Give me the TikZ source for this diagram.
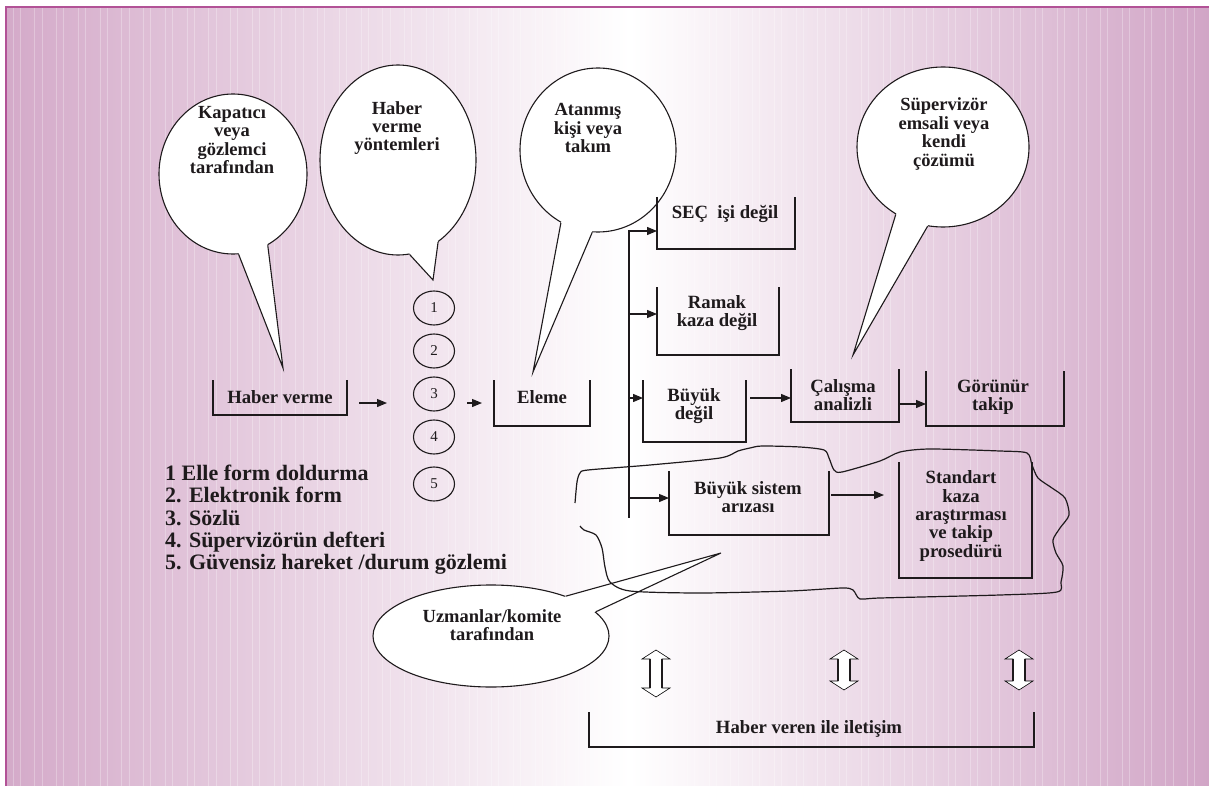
\documentclass[tikz,border=0pt]{standalone}
\usepackage{fontspec}
\setmainfont{Liberation Serif}
\usetikzlibrary{arrows.meta,shapes.geometric,calc}
\definecolor{pinkL}{RGB}{212,170,201}
\definecolor{pinkR}{RGB}{209,165,198}
\definecolor{framec}{RGB}{178,82,150}
\definecolor{textc}{RGB}{30,26,28}
\newcommand\dblarw[3]{%
 \filldraw[fill=white, draw=black, line width=0.6pt] (#1,#2) -- ++(14,9) -- ++(-8,0) -- (#1+6,#3-9) -- ++(8,0) -- (#1,#3) -- ++(-14,-9) -- ++(8,0) -- (#1-6,#2+9) -- ++(-8,0) -- cycle;
 \draw[line width=1.8pt, textc] (#1-6,#2+9) -- (#1-6,#3-9) (#1+6,#2+9) -- (#1+6,#3-9);
}
\begin{document}
\begin{tikzpicture}[x=1pt,y=-1pt,
  txt/.style={font=\fontsize{18.7}{18.4}\selectfont\bfseries, text=textc, align=center, inner sep=0},
  btxt/.style={font=\fontsize{18.5}{18.4}\selectfont\bfseries, text=textc, align=center, inner sep=0},
  legtxt/.style={font=\fontsize{22}{22.2}\selectfont\bfseries, text=textc, align=left, inner sep=0},
  box/.style 2 args={minimum width=#1pt, minimum height=#2pt, inner sep=0, outer sep=0},
  uline/.style={line width=1.7pt, textc},
  balloon/.style={ellipse, draw=textc, fill=white, line width=1.1pt, inner sep=0},
  bline/.style={draw=textc, line width=1.1pt},
  circ/.style={ellipse, draw=textc, line width=1.1pt, minimum width=41pt, minimum height=34pt, inner sep=0, font=\fontsize{15}{15}\selectfont, text=textc},
  arr/.style={line width=1.2pt, textc, -{Triangle[length=10pt,width=8pt]}},
  cloudline/.style={line width=1.2pt, textc}
]
\useasboundingbox (0,0) rectangle (1209,786);
% background
\fill[white] (0,0) rectangle (1209,786);
\shade[left color=pinkL, right color=white] (6,7) rectangle (630,786);
\shade[left color=white, right color=pinkR] (629.5,7) rectangle (1209,786);
\foreach \i in {0,...,165} {
  \pgfmathtruncatemacro\skipit{mod(\i,3)}
  \ifnum\skipit=2\else
  \pgfmathsetmacro\xx{13+\i*7.25}
  \draw[white, opacity=0.28, line width=0.9pt] (\xx,8) -- (\xx,786);
  \fi
}
\draw[framec, line width=2.6pt] (6,786) -- (6,7) -- (1209,7);

% balloons
\node[balloon, minimum width=148pt, minimum height=160pt] (B1) at (233,174) {};
\coordinate (tip1) at (283,368);
\fill[white] (B1.274) -- (tip1) -- (B1.296) -- (B1.center) -- cycle;
\draw[bline] (B1.274) -- (tip1) -- (B1.296);

\node[balloon, minimum width=156pt, minimum height=190pt] (B2) at (398,160) {};
\coordinate (tip2) at (433,280);
\fill[white] (B2.277) -- (tip2) -- (B2.296) -- (B2.center) -- cycle;
\draw[bline] (B2.277) -- (tip2) -- (B2.296);

\node[balloon, minimum width=156pt, minimum height=164pt] (B3) at (598,150) {};
\coordinate (tip3) at (533,372);
\fill[white] (B3.243) -- (tip3) -- (B3.266) -- (B3.center) -- cycle;
\draw[bline] (B3.243) -- (tip3) -- (B3.266);

\node[balloon, minimum width=172pt, minimum height=160pt] (B4) at (943,147) {};
\coordinate (tip4) at (853,355);
\fill[white] (B4.235) -- (tip4) -- (B4.259) -- (B4.center) -- cycle;
\draw[bline] (B4.235) -- (tip4) -- (B4.259);

\node[balloon, minimum width=236pt, minimum height=102pt] (B5) at (491,636) {};
\coordinate (tip5) at (721,553);
\fill[white] (B5.28) -- (tip5) -- (B5.13) -- (B5.center) -- cycle;
\draw[bline] (B5.28) -- (tip5) -- (B5.13);

% cloud outline
\draw[cloudline] plot[smooth, tension=0.45] coordinates {
 (575,503) (577,482) (580,473) (588,470) (650,465) (720,458) (738,451) (750,448) (762,446) (800,447) (824,450) (829,458) (834,470) (842,472) (880,461) (900,452) (930,449) (1000,451) (1027,453) (1032,465) (1038,478) (1052,488) (1065,498) (1069,515) (1060,528) (1053,540) (1056,553) (1063,566) (1061,582) (1057,592) (1000,595) (880,598) (860,599) (853,590) (842,588) (790,591) (700,593) (630,591) (610,582) (605,567) (602,548) (596,535) (584,530) (580,526)};

% boxes
\node[box={134}{35}] (hv) at (280,397.5) {};
\node[box={96}{46}] (el) at (542,403) {};
\node[box={138}{52}] (sec) at (726,223) {};
\node[box={122}{68}] (ram) at (718,321) {};
\node[box={103}{62}] (bd) at (694.5,411) {};
\node[box={108}{53}] (cal) at (845,395.5) {};
\node[box={138}{55}] (gor) at (995,398.5) {};
\node[box={160}{64}] (bs) at (749,503) {};
\node[box={133}{116}] (std) at (965.5,520) {};
\node[box={445}{35}] (hvi) at (811.5,729.5) {};
\foreach \n in {hv,el,sec,ram,bd,cal,gor,bs,std,hvi}
  \draw[uline] (\n.north west) -- (\n.south west) -- (\n.south east) -- (\n.north east);

% circles
\node[circ] (c1) at (434,308) {1};
\node[circ] (c2) at (434,351) {2};
\node[circ] (c3) at (434,394) {3};
\node[circ] (c4) at (434,437) {4};
\node[circ] (c5) at (434,484) {5};

% connectors
\coordinate (a1s) at (359,403);
\coordinate (a1e) at (387,403);
\draw[arr] (a1s) -- (a1e);
\coordinate (a2s) at (467,403);
\coordinate (a2e) at (482,403);
\draw[arr] (a2s) -- (a2e);

\coordinate (vtop) at (629,230);
\coordinate (vbot) at (629,518);
\draw[line width=1.2pt, textc] (vtop) -- (vbot);
\coordinate (j1) at (629,231);
\coordinate (j2) at (629,314);
\coordinate (j3) at (629,398);
\coordinate (j4) at (629,498);
\draw[arr] (j1) -- (j1 -| sec.west);
\draw[arr] (j2) -- (j2 -| ram.west);
\draw[arr] (j3) -- (j3 -| bd.west);
\draw[arr] (j4) -- (j4 -| bs.west);
\draw[arr] ([xshift=4pt]bd.east |- j3) -- (cal.west |- j3);
\draw[arr] ([yshift=-8.5pt]cal.east) -- ([yshift=-8.5pt]cal.east -| gor.west);
\coordinate (bsend) at (884,495);
\draw[arr] ([xshift=2pt]bs.east |- bsend) -- (bsend);

% double arrows
\dblarw{656}{650}{697}
\dblarw{844}{650}{690}
\dblarw{1019}{650}{690}

% texts
\node[btxt] (tB1) at (232,140) {Kapatıcı\\veya\\gözlemci\\tarafından};
\node[btxt] (tB2) at (397,128) {Haber\\verme\\yöntemleri};
\node[btxt] (tB3) at (588,128) {Atanmış\\kişi veya\\takım};
\node[btxt] (tB4) at (944,134) {Süpervizör\\emsali veya\\kendi\\çözümü};
\node[btxt] (tB5) at (492,625) {Uzmanlar/komite\\tarafından};

\node[txt] (thv) at (280,397) {Haber verme};
\node[txt] (tel) at (542,397) {Eleme};
\node[txt] (tsec) at (725,214) {SEÇ\ \ işi değil};
\node[txt] (tram) at (717,313) {Ramak\\kaza değil};
\node[txt] (tbd) at (694,406) {Büyük\\değil};
\node[txt] (tcal) at (843,395) {Çalışma\\analizli};
\node[txt] (tgor) at (993,397) {Görünür\\takip};
\node[txt] (tbs) at (748,497) {Büyük sistem\\arızası};
\node[txt] (tstd) at (961,516) {Standart\\kaza\\araştırması\\ve takip\\prosedürü};
\node[txt] (thvi) at (809,729) {Haber veren ile iletişim};

\node[legtxt, anchor=north west] (leg) at (165,465) {1 Elle form doldurma\\2. Elektronik form\\3. Sözlü\\4. Süpervizörün defteri\\5. Güvensiz hareket /durum gözlemi};
\end{tikzpicture}
\end{document}
